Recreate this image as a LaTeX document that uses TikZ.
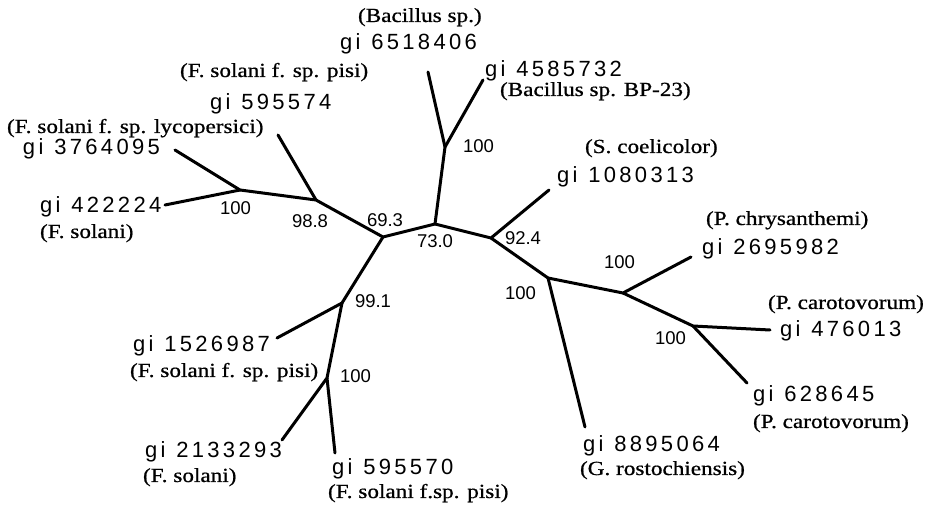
\documentclass[tikz,border=0pt]{standalone}
\usepackage{fontspec}
\setmainfont{Liberation Serif}
\newfontfamily\gisans[LetterSpace=15]{Liberation Sans}
\newfontfamily\bssans{Liberation Sans}
\newfontfamily\spserif[FakeBold=0.7]{Liberation Serif}
\newcommand{\gilab}[1]{{\gisans\fontsize{22}{24}\selectfont gi\hspace{11pt}#1}}
\newcommand{\splab}[1]{\scalebox{1.16}[1]{\spserif\fontsize{20}{22}\selectfont #1}}
\newcommand{\bslab}[1]{{\bssans\fontsize{18.5}{20}\selectfont #1}}
\tikzset{
  branch/.style={line width=3pt, line cap=round, line join=round},
  txt/.style={anchor=base west, inner sep=0pt, outer sep=0pt},
}
\begin{document}
\begin{tikzpicture}[x=1pt,y=-1pt]
\useasboundingbox (0,0) rectangle (935,510);
% internal nodes
\coordinate (A) at (240,190);
\coordinate (B) at (316,200);
\coordinate (C) at (383,237);
\coordinate (D) at (435,224);
\coordinate (E) at (445,147);
\coordinate (F) at (491,238);
\coordinate (G) at (548,278);
\coordinate (H) at (623,293);
\coordinate (I) at (693,326);
\coordinate (J) at (342,303);
\coordinate (K) at (327,378);
% leaf ends
\coordinate (e6518406) at (428,72);
\coordinate (e4585732) at (483,80);
\coordinate (e595574) at (278,135);
\coordinate (e3764095) at (175,150);
\coordinate (e422224) at (165,205);
\coordinate (e1080313) at (549,190);
\coordinate (e2695982) at (691,257);
\coordinate (e476013) at (770,330);
\coordinate (e628645) at (747,383);
\coordinate (e8895064) at (585,427);
\coordinate (e1526987) at (277,338);
\coordinate (e2133293) at (282,440);
\coordinate (e595570) at (335,453);
% branches
\draw[branch] (e3764095) -- (A) -- (B) -- (C) -- (D) -- (E) -- (e6518406);
\draw[branch] (e422224) -- (A);
\draw[branch] (e595574) -- (B);
\draw[branch] (E) -- (e4585732);
\draw[branch] (D) -- (F) -- (e1080313);
\draw[branch] (F) -- (G) -- (e8895064);
\draw[branch] (G) -- (H) -- (e2695982);
\draw[branch] (H) -- (I) -- (e476013);
\draw[branch] (I) -- (e628645);
\draw[branch] (C) -- (J) -- (e1526987);
\draw[branch] (J) -- (K) -- (e2133293);
\draw[branch] (K) -- (e595570);
% gi labels
\node[txt] (g6518406) at (340,50) {\gilab{6518406}};
\node[txt] (g4585732) at (485,77) {\gilab{4585732}};
\node[txt] (g595574) at (210,110) {\gilab{595574}};
\node[txt] (g3764095) at (23,155) {\gilab{3764095}};
\node[txt] (g422224) at (40,213) {\gilab{422224}};
\node[txt] (g1080313) at (557,183) {\gilab{1080313}};
\node[txt] (g2695982) at (702,255) {\gilab{2695982}};
\node[txt] (g476013) at (780,337) {\gilab{476013}};
\node[txt] (g628645) at (753,402) {\gilab{628645}};
\node[txt] (g8895064) at (583,452) {\gilab{8895064}};
\node[txt] (g1526987) at (133,352) {\gilab{1526987}};
\node[txt] (g2133293) at (145,458) {\gilab{2133293}};
\node[txt] (g595570) at (332,475) {\gilab{595570}};
% species labels
\node[txt] (s6518406) at (358,22) {\splab{(Bacillus sp.)}};
\node[txt] (s4585732) at (500,96) {\splab{(Bacillus sp. BP-23)}};
\node[txt] (s595574) at (180,77) {\splab{(F. solani f. sp. pisi)}};
\node[txt] (s3764095) at (7,133) {\splab{(F. solani f. sp. lycopersici)}};
\node[txt] (s422224) at (40,238) {\splab{(F. solani)}};
\node[txt] (s1080313) at (585,153) {\splab{(S. coelicolor)}};
\node[txt] (s2695982) at (706,225) {\splab{(P. chrysanthemi)}};
\node[txt] (s476013) at (768,309) {\splab{(P. carotovorum)}};
\node[txt] (s628645) at (753,428) {\splab{(P. carotovorum)}};
\node[txt] (s8895064) at (580,475) {\splab{(G. rostochiensis)}};
\node[txt] (s1526987) at (130,377) {\splab{(F. solani f. sp. pisi)}};
\node[txt] (s2133293) at (143,482) {\splab{(F. solani)}};
\node[txt] (s595570) at (328,498) {\splab{(F. solani f.sp. pisi)}};
% bootstrap values
\node[txt] (bA) at (220,215) {\bslab{100}};
\node[txt] (bB) at (292,228) {\bslab{98.8}};
\node[txt] (bC) at (367,227) {\bslab{69.3}};
\node[txt] (bD) at (417,248) {\bslab{73.0}};
\node[txt] (bE) at (463,153) {\bslab{100}};
\node[txt] (bF) at (505,245) {\bslab{92.4}};
\node[txt] (bG) at (505,300) {\bslab{100}};
\node[txt] (bH) at (604,269) {\bslab{100}};
\node[txt] (bI) at (655,345) {\bslab{100}};
\node[txt] (bJ) at (355,308) {\bslab{99.1}};
\node[txt] (bK) at (340,383) {\bslab{100}};
\end{tikzpicture}
\end{document}
